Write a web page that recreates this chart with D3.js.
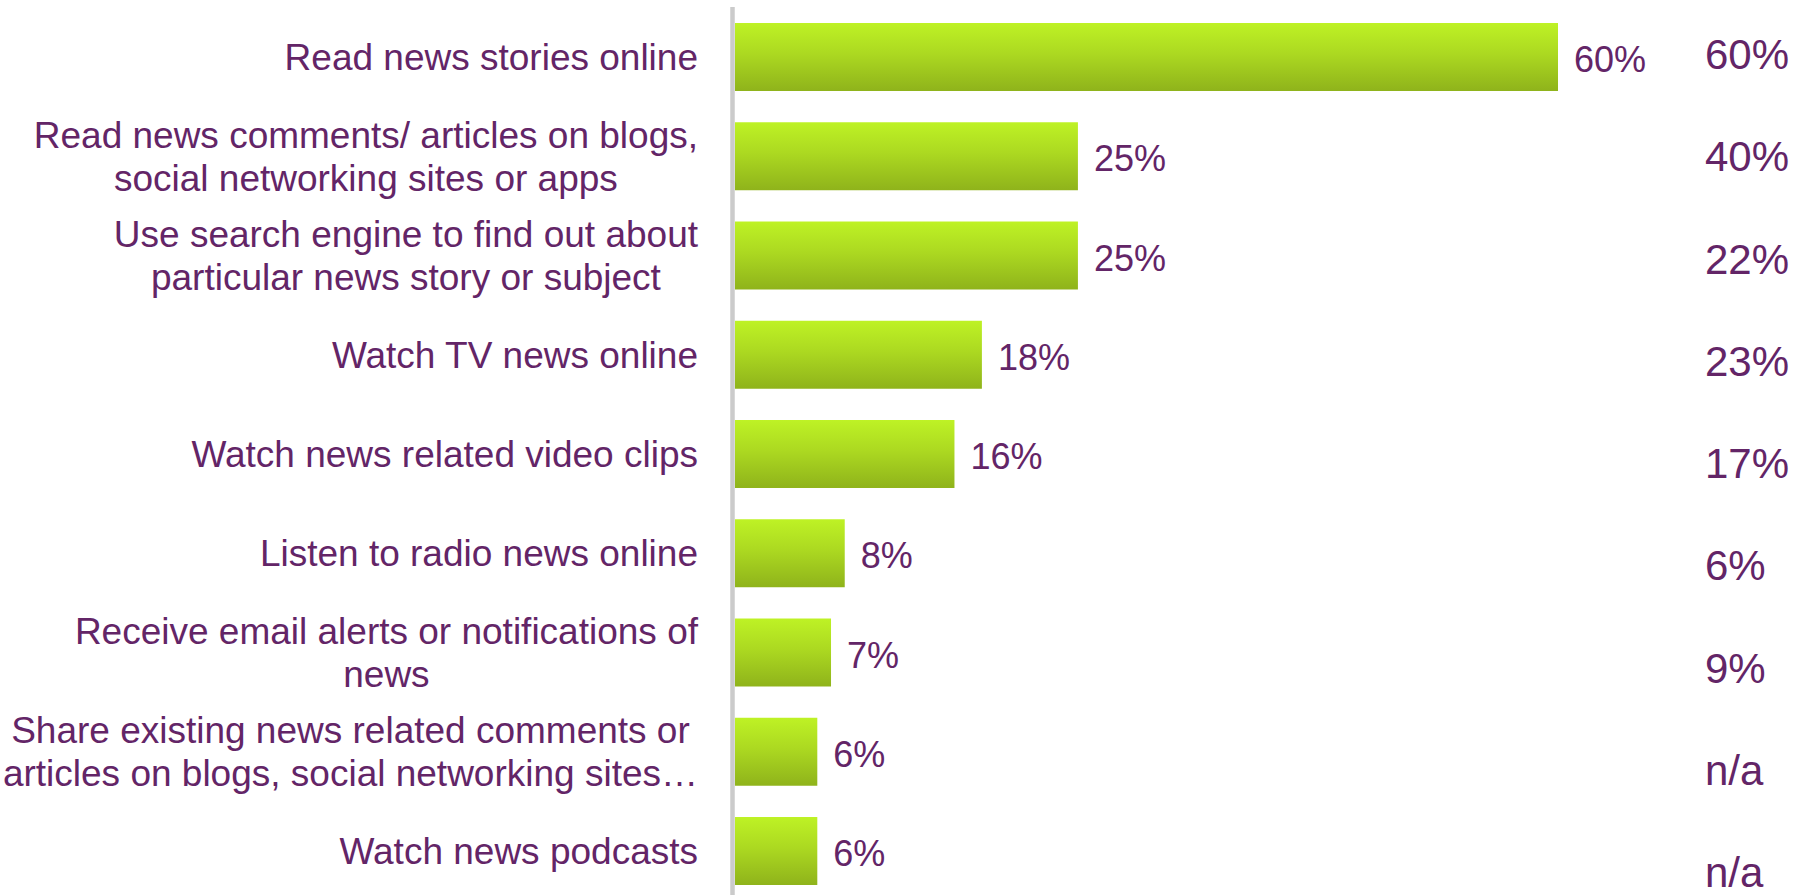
<!DOCTYPE html>
<html>
<head>
<meta charset="utf-8">
<script src="https://cdn.jsdelivr.net/npm/d3@7"></script>
<style>
  html, body { margin: 0; padding: 0; background: #ffffff; }
  svg { display: block; }
  text { font-family: "Liberation Sans", Arial, sans-serif; fill: #632567; }
</style>
</head>
<body>
<svg id="chart" width="1804" height="895"></svg>
<script>
// Online news activities: current share per activity, with an earlier figure shown on the right
const categories = [
  ["Read news stories online"],
  ["Read news comments/ articles on blogs,", "social networking sites or apps"],
  ["Use search engine to find out about", "particular news story or subject"],
  ["Watch TV news online"],
  ["Watch news related video clips"],
  ["Listen to radio news online"],
  ["Receive email alerts or notifications of", "news"],
  ["Share existing news related comments or", "articles on blogs, social networking sites\u2026"],
  ["Watch news podcasts"]
];
const values = [60, 25, 25, 18, 16, 8, 7, 6, 6];
const previousLabels = ["60%", "40%", "22%", "23%", "17%", "6%", "9%", "n/a", "n/a"];

const svg = d3.select("#chart");
const axisX = 735;

// Bar gradient: bright lime at the top fading to olive green at the bottom
const defs = svg.append("defs");
const grad = defs.append("linearGradient")
  .attr("id", "barGrad").attr("x1", 0).attr("y1", 0).attr("x2", 0).attr("y2", 1);
grad.append("stop").attr("offset", "0%").attr("stop-color", "#bef225");
grad.append("stop").attr("offset", "45%").attr("stop-color", "#acd921");
grad.append("stop").attr("offset", "100%").attr("stop-color", "#8fb31b");

const idx = d3.range(categories.length);

const y = d3.scaleBand()
  .domain(idx)
  .range([7.375, 900.625])
  .paddingInner(0.315)
  .paddingOuter(0.1575);

const x = d3.scaleLinear()
  .domain([0, 60])
  .range([axisX, axisX + 823]);

// Right-hand column of earlier figures, evenly spaced
const yPrev = d3.scalePoint()
  .domain(idx)
  .range([53.5, 871.5]);

// Bars
svg.append("g").selectAll("rect")
  .data(idx)
  .join("rect")
  .attr("x", x(0))
  .attr("y", i => y(i))
  .attr("width", i => x(values[i]) - x(0))
  .attr("height", y.bandwidth())
  .attr("fill", "url(#barGrad)");

// Vertical axis line
svg.append("line")
  .attr("x1", axisX - 2.5).attr("x2", axisX - 2.5)
  .attr("y1", 7).attr("y2", 895)
  .attr("stroke", "#cbcbcb")
  .attr("stroke-width", 4.5);

// Value labels beside each bar
svg.append("g").selectAll("text")
  .data(idx)
  .join("text")
  .attr("x", i => x(values[i]) + 16)
  .attr("y", i => y(i) + y.bandwidth() / 2 + 15)
  .attr("font-size", 36)
  .text(i => values[i] + "%");

// Category labels: each block right-aligned to the axis, lines centred within the block
const labelRight = 698;
const lineH = 43;
const fontSize = 37;
const catG = svg.append("g");
idx.forEach(i => {
  const lines = categories[i];
  const g = catG.append("g");
  const texts = lines.map(l => g.append("text").attr("font-size", fontSize).text(l));
  const maxW = d3.max(texts, t => t.node().getComputedTextLength());
  const cx = labelRight - maxW / 2;
  const cy = y(i) + y.bandwidth() / 2;
  const firstBase = cy - (lines.length - 1) * lineH / 2 + fontSize * 0.716 / 2;
  texts.forEach((t, k) => {
    t.attr("text-anchor", "middle")
      .attr("x", cx)
      .attr("y", firstBase + k * lineH);
  });
});

// Earlier figures column
svg.append("g").selectAll("text")
  .data(idx)
  .join("text")
  .attr("x", 1705)
  .attr("y", i => yPrev(i) + 15.5)
  .attr("font-size", 42)
  .text(i => previousLabels[i]);
</script>
</body>
</html>
